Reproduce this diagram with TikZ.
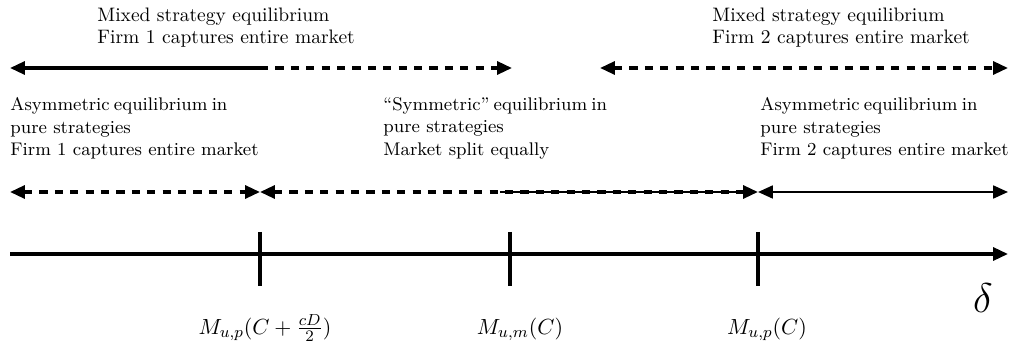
\documentclass[tikz,border=0pt]{standalone}
\usetikzlibrary{arrows.meta,positioning}

\newlength{\colw}
\newcommand{\spreadline}[1]{\makebox[\colw][s]{#1}}

\begin{document}
\begin{tikzpicture}[x=0.5pt,y=-0.5pt,>={Triangle[length=7.4pt,width=6.4pt]},
  every node/.style={inner sep=0pt},
  toplbl/.style={anchor=north west,align=left,font=\fontsize{9.75}{11}\selectfont},
  lbl/.style={anchor=north west,align=left,font=\fontsize{9.15}{11.25}\selectfont},
  bar/.style={line width=1.65pt},
  dsh/.style={line width=1.65pt,dash pattern=on 4.1pt off 3.6pt},
  thinbar/.style={line width=1.1pt},
  ticklbl/.style={font=\fontsize{11.3}{13}\selectfont,anchor=base}]
\useasboundingbox (0,0) rectangle (1011,352);
{\fontsize{9.15}{11.25}\selectfont\settowidth{\global\colw}{Firm 1 captures entire market}}

% points on the arrow rows and the axis
\coordinate (m0) at (10,68);
\coordinate (m1) at (260,68);
\coordinate (m2) at (512,68);
\coordinate (n0) at (600,68);
\coordinate (n1) at (1008,68);
\coordinate (p0) at (10,192);
\coordinate (p1) at (260,192);
\coordinate (p2) at (500,192);
\coordinate (p3) at (758,192);
\coordinate (p4) at (1008,192);
\coordinate (o) at (10,254);
\coordinate (e) at (1008,254);

% texts
\node[toplbl] (mixA) at (97,8) {Mixed strategy equilibrium\\Firm 1 captures entire market};
\node[toplbl] (mixB) at (712,8) {Mixed strategy equilibrium\\Firm 2 captures entire market};
\node[lbl] (asyA) at (10,97) {\spreadline{Asymmetric equilibrium in}\\pure strategies\\Firm 1 captures entire market};
\node[lbl] (sym) at (383,97) {\spreadline{``Symmetric'' equilibrium in}\\pure strategies\\Market split equally};
\node[lbl] (asyB) at (760,97) {\spreadline{Asymmetric equilibrium in}\\pure strategies\\Firm 2 captures entire market};

% top row
\draw[bar,<-] (m0) -- (m1);
\draw[dsh,->] (m1) -- (m2);
\draw[dsh,<->] (n0) -- (n1);

% second row
\draw[dsh,<->] (p0) -- (p1);
\draw[dsh,<->] (p1) -- (p3);
\draw[thinbar,shorten >=6pt] (p2) -- (p3);
\draw[thinbar,<->] (p3) -- (p4);

% axis and ticks
\draw[bar,->] (o) -- (e);
\foreach \x/\n in {260/ta,510/tb,758/tc}{
  \coordinate (\n1) at (\x,232);
  \coordinate (\n2) at (\x,286);
  \draw[bar] (\n1) -- (\n2);
}
\node[ticklbl] (la) at (265,334) {$M_{u,p}(C+\frac{cD}{2})$};
\node[ticklbl] (lb) at (520,334) {$M_{u,m}(C)$};
\node[ticklbl] (lc) at (767,334) {$M_{u,p}(C)$};
\node[font=\huge,anchor=base] (dl) at (983,312) {$\delta$};
\end{tikzpicture}
\end{document}
